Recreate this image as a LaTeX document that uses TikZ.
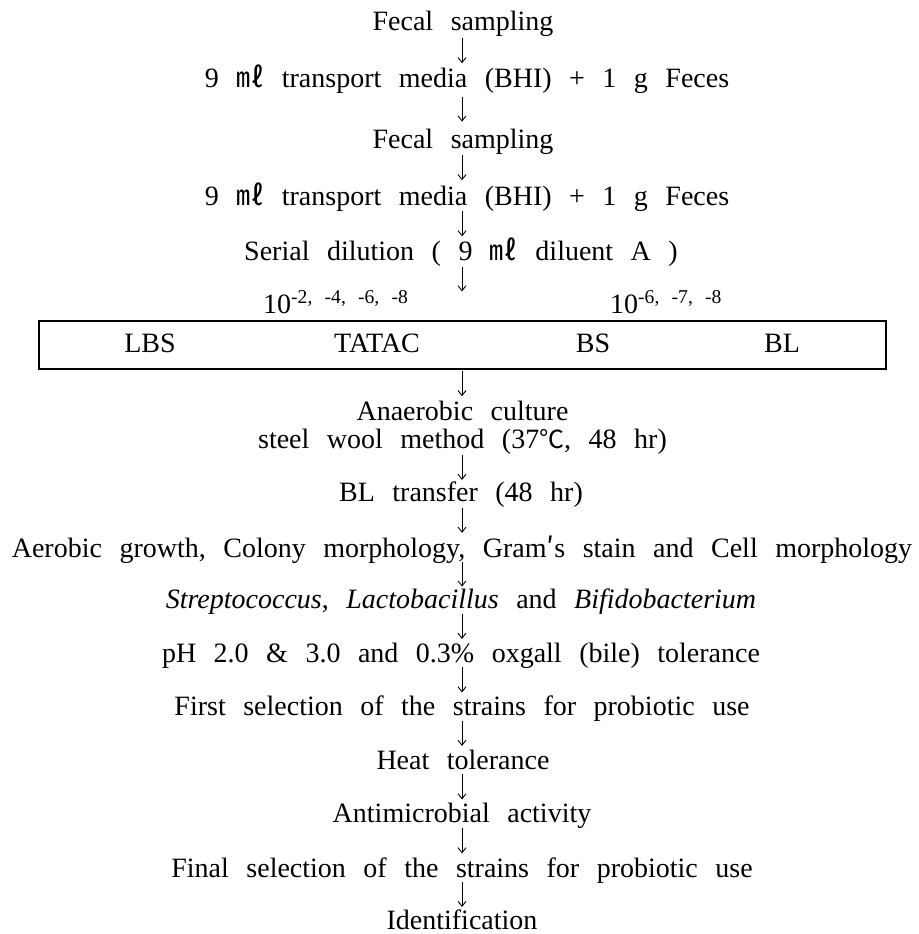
\documentclass[tikz,border=0pt]{standalone}
\usepackage{fontspec}
\setmainfont[WordSpace=2.5]{Liberation Serif}
\newfontfamily\cjk{Noto Sans CJK KR}
\usetikzlibrary{arrows.meta,calc}

\tikzset{
  txt/.style={font=\fontsize{28pt}{32pt}\selectfont, inner sep=0pt, anchor=base,
              text height=18pt, text depth=4pt},
  twoline/.style={font=\fontsize{28pt}{28pt}\selectfont, inner sep=0pt, align=center},
  sup/.style={font=\fontsize{28pt}{32pt}\selectfont, inner sep=0pt, anchor=base west},
  flow/.style={line width=0.9pt, -{Straight Barb[length=5pt,width=8pt,line width=0.9pt]}},
  mediabox/.style={draw, line width=1.2pt, minimum width=847pt, minimum height=48pt, inner sep=0pt}
}
\newcommand\ml{{\cjk ㎖}}
\newcommand\degC{{\cjk\fontsize{25pt}{28pt}\selectfont ℃}}
\newcommand\flowarrow[2]{\draw[flow] ($(#1.south -| col)!.45!(#2.north -| col)+(0,-12.5)$) -- ++(0,25);}

\begin{document}
\begin{tikzpicture}[x=1pt,y=-1pt]
\useasboundingbox (0,0) rectangle (918,934);
\coordinate (col) at (462,0);

% sampling and transport
\node[txt] (f1) at (463,31) {Fecal sampling};
\node[txt] (t1) at (467,88) {9 \ml\ transport media (BHI) + 1 g Feces};
\node[txt] (f2) at (463,148) {Fecal sampling};
\node[txt] (t2) at (467,205) {9 \ml\ transport media (BHI) + 1 g Feces};
\node[txt] (serial) at (461,260) {Serial dilution ( 9 \ml\ diluent A )};

% dilutions plated on the four media
\node[sup] (d1) at (263,313) {10\textsuperscript{-2, -4, -6, -8}};
\node[sup] (d2) at (610,313) {10\textsuperscript{-6, -7, -8}};
\node[mediabox] (box) at (462.5,345) {};
\node[txt] (lbs) at (150,352) {LBS};
\node[txt] (tatac) at (377,352) {TATAC};
\node[txt] (bs) at (593,352) {BS};
\node[txt] (bl) at (782,352) {BL};

% culture and screening
\node[twoline, anchor=north] (an) at (462.5,401) {Anaerobic culture\\steel wool method (37\degC, 48 hr)};
\node[txt] (blt) at (461,501) {BL transfer (48 hr)};
\node[txt] (aer) at (462,557) {Aerobic growth, Colony morphology, Gram{\cjk ′}s stain and Cell morphology};
\node[txt] (gen) at (461,608) {\textit{Streptococcus}, \textit{Lactobacillus} and \textit{Bifidobacterium}};
\node[txt] (ph) at (461,662) {pH 2.0 \& 3.0 and 0.3\% oxgall (bile) tolerance};
\node[txt] (sel1) at (462,715) {First selection of the strains for probiotic use};
\node[txt] (heat) at (463,769) {Heat tolerance};
\node[txt] (anti) at (462,822) {Antimicrobial activity};
\node[txt] (sel2) at (462,877) {Final selection of the strains for probiotic use};
\node[txt] (ident) at (462,929) {Identification};

% arrows
\flowarrow{f1}{t1}
\flowarrow{t1}{f2}
\flowarrow{f2}{t2}
\flowarrow{t2}{serial}
\draw[flow, shorten <=3pt, shorten >=29pt] (serial.south -| col) -- (box.north -| col);
\flowarrow{box}{an}
\flowarrow{an}{blt}
\flowarrow{blt}{aer}
\flowarrow{aer}{gen}
\flowarrow{gen}{ph}
\flowarrow{ph}{sel1}
\flowarrow{sel1}{heat}
\flowarrow{heat}{anti}
\flowarrow{anti}{sel2}
\flowarrow{sel2}{ident}
\end{tikzpicture}
\end{document}
